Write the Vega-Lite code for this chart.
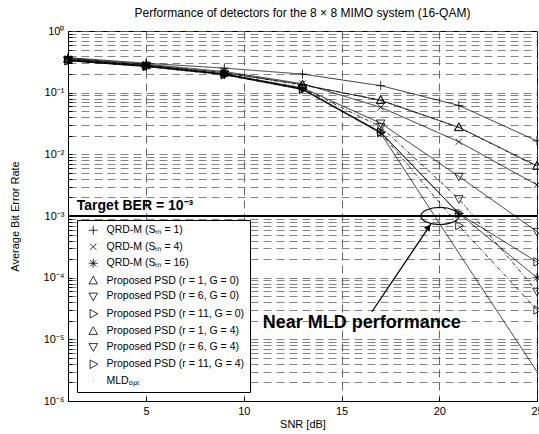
{
  "$schema": "https://vega.github.io/schema/vega-lite/v6.json",
  "width": 469,
  "height": 370,
  "autosize": {"type": "none"},
  "padding": {"left": 68, "top": 31, "right": 2, "bottom": 33},
  "config": {
    "font": "Liberation Sans",
    "view": {"stroke": "black", "strokeWidth": 1}
  },
  "title": {"text": "Performance of detectors for the 8 × 8 MIMO system (16-QAM)", "fontSize": 12, "fontWeight": "normal", "offset": 5, "frame": "group", "color": "black", "anchor": "middle"},
  "datasets": {
    "ber": [
      {"series": "QRD-M (Sₘ = 1)", "snr": 1, "ber": 0.37},
      {"series": "QRD-M (Sₘ = 1)", "snr": 5, "ber": 0.30},
      {"series": "QRD-M (Sₘ = 1)", "snr": 9, "ber": 0.25},
      {"series": "QRD-M (Sₘ = 1)", "snr": 13, "ber": 0.20},
      {"series": "QRD-M (Sₘ = 1)", "snr": 17, "ber": 0.13},
      {"series": "QRD-M (Sₘ = 1)", "snr": 21, "ber": 0.062},
      {"series": "QRD-M (Sₘ = 1)", "snr": 25, "ber": 0.0165},
      {"series": "QRD-M (Sₘ = 4)", "snr": 1, "ber": 0.36},
      {"series": "QRD-M (Sₘ = 4)", "snr": 5, "ber": 0.29},
      {"series": "QRD-M (Sₘ = 4)", "snr": 9, "ber": 0.22},
      {"series": "QRD-M (Sₘ = 4)", "snr": 13, "ber": 0.14},
      {"series": "QRD-M (Sₘ = 4)", "snr": 17, "ber": 0.058},
      {"series": "QRD-M (Sₘ = 4)", "snr": 21, "ber": 0.016},
      {"series": "QRD-M (Sₘ = 4)", "snr": 25, "ber": 0.0032},
      {"series": "QRD-M (Sₘ = 16)", "snr": 1, "ber": 0.34},
      {"series": "QRD-M (Sₘ = 16)", "snr": 5, "ber": 0.27},
      {"series": "QRD-M (Sₘ = 16)", "snr": 9, "ber": 0.20},
      {"series": "QRD-M (Sₘ = 16)", "snr": 13, "ber": 0.115},
      {"series": "QRD-M (Sₘ = 16)", "snr": 17, "ber": 0.0225},
      {"series": "QRD-M (Sₘ = 16)", "snr": 21, "ber": 0.0011},
      {"series": "QRD-M (Sₘ = 16)", "snr": 25, "ber": 0.0001},
      {"series": "Proposed PSD (r = 1, G = 0)", "snr": 1, "ber": 0.35},
      {"series": "Proposed PSD (r = 1, G = 0)", "snr": 5, "ber": 0.28},
      {"series": "Proposed PSD (r = 1, G = 0)", "snr": 9, "ber": 0.21},
      {"series": "Proposed PSD (r = 1, G = 0)", "snr": 13, "ber": 0.135},
      {"series": "Proposed PSD (r = 1, G = 0)", "snr": 17, "ber": 0.075},
      {"series": "Proposed PSD (r = 1, G = 0)", "snr": 21, "ber": 0.0275},
      {"series": "Proposed PSD (r = 1, G = 0)", "snr": 25, "ber": 0.0065},
      {"series": "Proposed PSD (r = 6, G = 0)", "snr": 1, "ber": 0.34},
      {"series": "Proposed PSD (r = 6, G = 0)", "snr": 5, "ber": 0.275},
      {"series": "Proposed PSD (r = 6, G = 0)", "snr": 9, "ber": 0.20},
      {"series": "Proposed PSD (r = 6, G = 0)", "snr": 13, "ber": 0.12},
      {"series": "Proposed PSD (r = 6, G = 0)", "snr": 17, "ber": 0.032},
      {"series": "Proposed PSD (r = 6, G = 0)", "snr": 21, "ber": 0.0044},
      {"series": "Proposed PSD (r = 6, G = 0)", "snr": 25, "ber": 0.00056},
      {"series": "Proposed PSD (r = 11, G = 0)", "snr": 1, "ber": 0.33},
      {"series": "Proposed PSD (r = 11, G = 0)", "snr": 5, "ber": 0.27},
      {"series": "Proposed PSD (r = 11, G = 0)", "snr": 9, "ber": 0.20},
      {"series": "Proposed PSD (r = 11, G = 0)", "snr": 13, "ber": 0.115},
      {"series": "Proposed PSD (r = 11, G = 0)", "snr": 17, "ber": 0.023},
      {"series": "Proposed PSD (r = 11, G = 0)", "snr": 21, "ber": 0.0011},
      {"series": "Proposed PSD (r = 11, G = 0)", "snr": 25, "ber": 0.00018},
      {"series": "Proposed PSD (r = 1, G = 4)", "snr": 1, "ber": 0.35},
      {"series": "Proposed PSD (r = 1, G = 4)", "snr": 5, "ber": 0.28},
      {"series": "Proposed PSD (r = 1, G = 4)", "snr": 9, "ber": 0.21},
      {"series": "Proposed PSD (r = 1, G = 4)", "snr": 13, "ber": 0.133},
      {"series": "Proposed PSD (r = 1, G = 4)", "snr": 17, "ber": 0.076},
      {"series": "Proposed PSD (r = 1, G = 4)", "snr": 21, "ber": 0.0272},
      {"series": "Proposed PSD (r = 1, G = 4)", "snr": 25, "ber": 0.0064},
      {"series": "Proposed PSD (r = 6, G = 4)", "snr": 1, "ber": 0.335},
      {"series": "Proposed PSD (r = 6, G = 4)", "snr": 5, "ber": 0.27},
      {"series": "Proposed PSD (r = 6, G = 4)", "snr": 9, "ber": 0.20},
      {"series": "Proposed PSD (r = 6, G = 4)", "snr": 13, "ber": 0.118},
      {"series": "Proposed PSD (r = 6, G = 4)", "snr": 17, "ber": 0.028},
      {"series": "Proposed PSD (r = 6, G = 4)", "snr": 21, "ber": 0.0019},
      {"series": "Proposed PSD (r = 6, G = 4)", "snr": 25, "ber": 0.00006},
      {"series": "Proposed PSD (r = 11, G = 4)", "snr": 1, "ber": 0.33},
      {"series": "Proposed PSD (r = 11, G = 4)", "snr": 5, "ber": 0.265},
      {"series": "Proposed PSD (r = 11, G = 4)", "snr": 9, "ber": 0.195},
      {"series": "Proposed PSD (r = 11, G = 4)", "snr": 13, "ber": 0.113},
      {"series": "Proposed PSD (r = 11, G = 4)", "snr": 17, "ber": 0.0225},
      {"series": "Proposed PSD (r = 11, G = 4)", "snr": 21, "ber": 0.0007},
      {"series": "Proposed PSD (r = 11, G = 4)", "snr": 25, "ber": 0.00003},
      {"series": "MLDₒₚₜ", "snr": 1, "ber": 0.33},
      {"series": "MLDₒₚₜ", "snr": 5, "ber": 0.265},
      {"series": "MLDₒₚₜ", "snr": 9, "ber": 0.195},
      {"series": "MLDₒₚₜ", "snr": 13, "ber": 0.112},
      {"series": "MLDₒₚₜ", "snr": 17, "ber": 0.022},
      {"series": "MLDₒₚₜ", "snr": 21, "ber": 0.00025},
      {"series": "MLDₒₚₜ", "snr": 25, "ber": 0.000003}
    ],
    "target": [{"ber": 0.001}],
    "notes": [
      {"text": "Target BER = 10⁻³", "snr": 1.45, "ber": 0.00127, "kind": "target"},
      {"text": "Near MLD performance", "snr": 10.97, "ber": 0.0000155, "kind": "near"}
    ],
    "ellipse": [{"snr": 20.03, "ber": 0.001}],
    "arrow": [{"snr": 16.55, "ber": 0.000028, "snr2": 19.57, "ber2": 0.00074}],
    "arrowhead": [{"snr": 19.45, "ber": 0.00066}]
  },
  "layer": [
    {
      "data": {"name": "ber"},
      "mark": {"type": "line", "color": "black", "strokeWidth": 0.8},
      "encoding": {
        "x": {
          "field": "snr", "type": "quantitative",
          "scale": {"domain": [1, 25], "nice": false, "zero": false},
          "axis": {
            "values": [5, 10, 15, 20, 25],
            "grid": true, "gridDash": [8, 5], "gridColor": "#444", "gridWidth": 0.8,
            "tickSize": -4, "tickColor": "black", "domainColor": "black",
            "labelFontSize": 11, "labelColor": "black", "labelPadding": 8, "labelFlush": false, "labelOverlap": false,
            "title": "SNR [dB]", "titleFontSize": 11, "titleFontWeight": "normal", "titleColor": "black", "titlePadding": 2
          }
        },
        "y": {
          "field": "ber", "type": "quantitative",
          "scale": {"type": "log", "domain": [0.000001, 1], "nice": false},
          "axis": {
            "values": [0.000001,0.000002,0.000003,0.000004,0.000005,0.000006,0.000007,0.000008,0.000009,
                       0.00001,0.00002,0.00003,0.00004,0.00005,0.00006,0.00007,0.00008,0.00009,
                       0.0001,0.0002,0.0003,0.0004,0.0005,0.0006,0.0007,0.0008,0.0009,
                       0.001,0.002,0.003,0.004,0.005,0.006,0.007,0.008,0.009,
                       0.01,0.02,0.03,0.04,0.05,0.06,0.07,0.08,0.09,
                       0.1,0.2,0.3,0.4,0.5,0.6,0.7,0.8,0.9,1],
            "labelExpr": "abs(log(datum.value)/LN10 - round(log(datum.value)/LN10)) < 0.001 ? '10' + (['⁰','⁻¹','⁻²','⁻³','⁻⁴','⁻⁵','⁻⁶'][-round(log(datum.value)/LN10)]) : ''",
            "grid": true, "gridDash": [8, 5], "gridColor": "#666", "gridWidth": 0.8,
            "tickSize": -4, "tickColor": "black", "domainColor": "black",
            "labelFontSize": 11, "labelColor": "black", "labelPadding": 8, "labelOverlap": false, "labelBound": false, "labelFlush": false,
            "title": "Average Bit Error Rate", "titleFontSize": 11, "titleFontWeight": "normal", "titleColor": "black",
            "titleX": -53, "titleY": 185, "titleAngle": -90, "titleBaseline": "middle", "titleAlign": "center"
          }
        },
        "detail": {"field": "series"},
        "strokeDash": {
          "field": "series", "legend": null,
          "scale": {
            "domain": ["MLDₒₚₜ", "QRD-M (Sₘ = 1)", "QRD-M (Sₘ = 4)", "QRD-M (Sₘ = 16)", "Proposed PSD (r = 1, G = 0)", "Proposed PSD (r = 6, G = 0)", "Proposed PSD (r = 11, G = 0)", "Proposed PSD (r = 1, G = 4)", "Proposed PSD (r = 6, G = 4)", "Proposed PSD (r = 11, G = 4)"],
            "range": [[1, 0], [1, 0], [1, 0], [1, 0], [1, 0], [1, 0], [1, 0], [4, 2, 1, 2], [4, 2, 1, 2], [4, 2, 1, 2]]
          }
        }
      }
    },
    {
      "data": {"name": "target"},
      "mark": {"type": "rule", "color": "black", "strokeWidth": 2},
      "encoding": {"y": {"field": "ber", "type": "quantitative"}}
    },
    {
      "data": {"name": "ber"},
      "transform": [{"filter": "datum.series !== 'MLDₒₚₜ'"}],
      "mark": {"type": "point", "filled": false, "color": "black", "strokeWidth": 0.8, "size": 81, "opacity": 1},
      "encoding": {
        "x": {"field": "snr", "type": "quantitative"},
        "y": {"field": "ber", "type": "quantitative"},
        "shape": {
          "field": "series", "type": "nominal",
          "scale": {
            "domain": ["QRD-M (Sₘ = 1)", "QRD-M (Sₘ = 4)", "QRD-M (Sₘ = 16)", "Proposed PSD (r = 1, G = 0)", "Proposed PSD (r = 6, G = 0)", "Proposed PSD (r = 11, G = 0)", "Proposed PSD (r = 1, G = 4)", "Proposed PSD (r = 6, G = 4)", "Proposed PSD (r = 11, G = 4)", "MLDₒₚₜ"],
            "range": [
              "M-1,0L1,0M0,-1L0,1",
              "M-0.7,-0.7L0.7,0.7M-0.7,0.7L0.7,-0.7",
              "M-1,0L1,0M0,-1L0,1M-0.7,-0.7L0.7,0.7M-0.7,0.7L0.7,-0.7",
              "M0,-1L0.95,0.7L-0.95,0.7Z",
              "M0,1L0.95,-0.7L-0.95,-0.7Z",
              "M1,0L-0.7,0.95L-0.7,-0.95Z",
              "M0,-1L0.95,0.7L-0.95,0.7Z",
              "M0,1L0.95,-0.7L-0.95,-0.7Z",
              "M1,0L-0.7,0.95L-0.7,-0.95Z",
              "M-0.05,0L0.05,0"
            ]
          },
          "legend": {
            "title": null,
            "orient": "bottom-left", "offset": 9,
            "padding": 5, "symbolOffset": 6, "labelOffset": 8,
            "rowPadding": 4.5,
            "strokeColor": "black", "fillColor": "white",
            "labelFontSize": 10.5, "labelColor": "black", "labelLimit": 300,
            "symbolStrokeColor": "black", "symbolFillColor": "transparent", "symbolStrokeWidth": 0.8, "symbolSize": 81,
            "encode": {
              "legend": {"strokeWidth": {"value": 1.5}},
              "symbols": {
                "shape": {"value": {"signal": "(indexof(datum.value, 'G = 4') >= 0 ? 'M-2.2,0L-1.6,0M-1.3,0L-1.2,0M-0.9,0L-0.3,0M0.3,0L0.9,0M1.2,0L1.3,0M1.6,0L2.2,0' : 'M-2.2,0L2.2,0') + scale('shape', datum.value)"}}
              }
            }
          }
        }
      }
    },
    {
      "data": {"name": "notes"},
      "transform": [{"filter": "datum.kind === 'target'"}],
      "mark": {"type": "text", "align": "left", "baseline": "alphabetic", "fontSize": 14, "fontWeight": "bold", "color": "black"},
      "encoding": {
        "x": {"field": "snr", "type": "quantitative"},
        "y": {"field": "ber", "type": "quantitative"},
        "text": {"field": "text"}
      }
    },
    {
      "data": {"name": "notes"},
      "transform": [{"filter": "datum.kind === 'near'"}],
      "mark": {"type": "text", "align": "left", "baseline": "alphabetic", "fontSize": 18, "fontWeight": "bold", "color": "black"},
      "encoding": {
        "x": {"field": "snr", "type": "quantitative"},
        "y": {"field": "ber", "type": "quantitative"},
        "text": {"field": "text"}
      }
    },
    {
      "data": {"name": "ellipse"},
      "mark": {"type": "point", "filled": false, "color": "black", "strokeWidth": 1.2, "size": 1444, "opacity": 1, "shape": "M-1,0A1,0.45,0,1,1,1,0A1,0.45,0,1,1,-1,0Z"},
      "encoding": {
        "x": {"field": "snr", "type": "quantitative"},
        "y": {"field": "ber", "type": "quantitative"}
      }
    },
    {
      "data": {"name": "arrow"},
      "mark": {"type": "rule", "color": "black", "strokeWidth": 1.3},
      "encoding": {
        "x": {"field": "snr", "type": "quantitative"},
        "y": {"field": "ber", "type": "quantitative"},
        "x2": {"field": "snr2"},
        "y2": {"field": "ber2"}
      }
    },
    {
      "data": {"name": "arrowhead"},
      "mark": {"type": "point", "filled": true, "color": "black", "shape": "triangle-up", "size": 50, "angle": 34, "opacity": 1},
      "encoding": {
        "x": {"field": "snr", "type": "quantitative"},
        "y": {"field": "ber", "type": "quantitative"}
      }
    }
  ]
}
